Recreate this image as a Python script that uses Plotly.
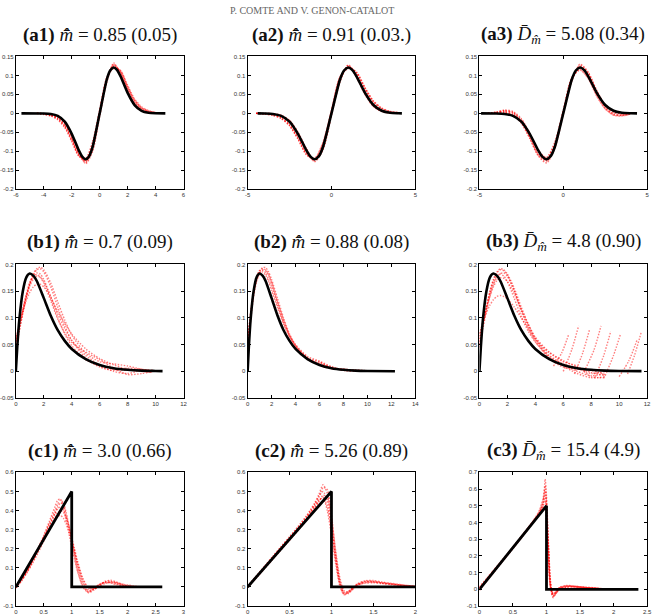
import plotly.graph_objects as go

W, H = 659, 616

HEADER = "P. COMTE AND V. GENON-CATALOT"
TITLES = [
    "<b>(a1)</b> <i>m\u0302\u0304</i> = 0.85 (0.05)",
    "<b>(a2)</b> <i>m\u0302\u0304</i> = 0.91 (0.03.)",
    "<b>(a3)</b> <i>D\u0304</i><sub><i>m\u0302</i></sub> = 5.08 (0.34)",
    "<b>(b1)</b> <i>m\u0302\u0304</i> = 0.7 (0.09)",
    "<b>(b2)</b> <i>m\u0302\u0304</i> = 0.88 (0.08)",
    "<b>(b3)</b> <i>D\u0304</i><sub><i>m\u0302</i></sub> = 4.8 (0.90)",
    "<b>(c1)</b> <i>m\u0302\u0304</i> = 3.0 (0.66)",
    "<b>(c2)</b> <i>m\u0302\u0304</i> = 5.26 (0.89)",
    "<b>(c3)</b> <i>D\u0304</i><sub><i>m\u0302</i></sub> = 15.4 (4.9)",
]

# ---------------- row a : true function (black) ----------------
A_BLACK_X = [-4, -3.5, -3, -2.5, -2, -1.5, -1.25, -1, -0.75, -0.5, 0, 0.5, 0.75, 1, 1.25, 1.5, 2, 2.5, 3, 3.5, 4]
A_BLACK_Y = [-0.0003, -0.0015, -0.0067, -0.0219, -0.054, -0.0971, -0.1141, -0.121, -0.1129, -0.088, 0,
             0.088, 0.1129, 0.121, 0.1141, 0.0971, 0.054, 0.0219, 0.0067, 0.0015, 0.0003]
A1_BLACK_ENDS = [-5.6, 4.7]
A2_BLACK_ENDS = [-4.4, 4.2]
A3_BLACK_ENDS = [-4.9, 4.4]

# row a : estimates (red)
GA = [-4.5, -4, -3.5, -3, -2.5, -2, -1.5, -1, -0.5, 0, 0.5, 1, 1.5, 2, 2.5, 3, 3.5, 4]
A1_RED = [
    [0, -0.002, -0.005, -0.014, -0.034, -0.070, -0.110, -0.124, -0.082, 0.004, 0.088, 0.125, 0.110, 0.070, 0.034, 0.014, 0.005, 0.002],
    [0, -0.001, -0.004, -0.012, -0.031, -0.066, -0.108, -0.130, -0.094, -0.004, 0.086, 0.130, 0.108, 0.066, 0.031, 0.012, 0.004, 0.001],
    [0, -0.003, -0.007, -0.017, -0.038, -0.074, -0.112, -0.118, -0.074, 0.010, 0.094, 0.118, 0.112, 0.074, 0.038, 0.017, 0.007, 0.003],
    [0, -0.001, -0.003, -0.009, -0.026, -0.060, -0.104, -0.126, -0.088, 0.000, 0.088, 0.126, 0.104, 0.060, 0.026, 0.009, 0.003, 0.001],
    [0, -0.0005, -0.002, -0.007, -0.022, -0.055, -0.099, -0.133, -0.100, -0.008, 0.080, 0.133, 0.101, 0.055, 0.021, 0.006, 0.001, 0],
    [0, -0.002, -0.006, -0.015, -0.035, -0.071, -0.113, -0.122, -0.078, 0.006, 0.092, 0.121, 0.113, 0.071, 0.035, 0.015, 0.006, 0.002],
    [0, -0.001, -0.004, -0.011, -0.029, -0.064, -0.106, -0.128, -0.090, 0.002, 0.090, 0.128, 0.106, 0.064, 0.029, 0.011, 0.004, 0.001],
]
A2_RED = [
    [0, -0.001, -0.004, -0.012, -0.030, -0.064, -0.105, -0.122, -0.080, 0.006, 0.094, 0.122, 0.105, 0.064, 0.030, 0.012, 0.004, 0.001],
    [0, -0.002, -0.005, -0.013, -0.032, -0.067, -0.108, -0.118, -0.076, 0.008, 0.096, 0.118, 0.108, 0.067, 0.032, 0.013, 0.005, 0.002],
    [0, 0, -0.001, -0.005, -0.018, -0.049, -0.093, -0.128, -0.096, -0.005, 0.082, 0.128, 0.094, 0.049, 0.018, 0.005, 0.001, 0],
    [0, -0.001, -0.003, -0.009, -0.027, -0.061, -0.104, -0.126, -0.088, 0.001, 0.090, 0.126, 0.104, 0.061, 0.027, 0.009, 0.003, 0.001],
    [0, 0, -0.001, -0.006, -0.020, -0.051, -0.094, -0.124, -0.093, -0.003, 0.084, 0.125, 0.096, 0.051, 0.019, 0.005, 0.001, 0],
    [0, -0.002, -0.005, -0.014, -0.033, -0.068, -0.109, -0.121, -0.078, 0.007, 0.095, 0.121, 0.109, 0.068, 0.033, 0.014, 0.005, 0.002],
]
A3_RED = [
    [0, 0.003, 0.007, 0.002, -0.020, -0.062, -0.108, -0.123, -0.082, 0.004, 0.090, 0.124, 0.104, 0.055, 0.016, -0.003, -0.005, -0.001],
    [0, 0.002, 0.009, 0.005, -0.014, -0.052, -0.098, -0.116, -0.076, 0.008, 0.094, 0.114, 0.092, 0.046, 0.012, -0.004, -0.006, -0.002],
    [0, 0.001, 0.003, -0.003, -0.025, -0.065, -0.110, -0.128, -0.089, 0.000, 0.086, 0.127, 0.106, 0.059, 0.021, 0.002, -0.002, 0],
    [0, 0.002, 0.005, 0.000, -0.021, -0.060, -0.105, -0.124, -0.086, 0.002, 0.088, 0.121, 0.099, 0.052, 0.017, -0.001, -0.004, -0.001],
    [0, 0.003, 0.007, 0.003, -0.016, -0.054, -0.099, -0.118, -0.078, 0.006, 0.092, 0.116, 0.091, 0.045, 0.012, -0.005, -0.007, -0.002],
    [0, 0, 0.002, -0.004, -0.026, -0.066, -0.112, -0.131, -0.092, -0.003, 0.083, 0.130, 0.108, 0.060, 0.022, 0.004, -0.001, 0],
]

# ---------------- row b ----------------
B_BLACK_X = [0, 0.1, 0.25, 0.5, 0.75, 1, 1.25, 1.5, 2, 2.5, 3, 3.5, 4, 5, 6, 7, 8, 9, 10]
B_BLACK_Y = [0, 0.045, 0.097, 0.150, 0.176, 0.183, 0.179, 0.169, 0.137, 0.104, 0.077, 0.057, 0.042,
             0.023, 0.012, 0.006, 0.003, 0.0015, 0.0008]
B1_BLACK_END = 10.5
B2_BLACK_END = 12.3
B3_BLACK_END = 11.6

GB1 = [0, 0.25, 0.5, 0.75, 1, 1.25, 1.5, 1.75, 2, 2.5, 3, 3.5, 4, 5, 6, 7, 8, 9, 9.8]
B1_RED = [
    [0.055, 0.085, 0.115, 0.140, 0.160, 0.172, 0.178, 0.176, 0.168, 0.140, 0.108, 0.080, 0.058, 0.030, 0.012, 0.004, 0.002, 0.003, 0.001],
    [0.040, 0.075, 0.108, 0.138, 0.162, 0.180, 0.190, 0.192, 0.186, 0.158, 0.120, 0.085, 0.058, 0.025, 0.008, 0.002, 0.006, 0.004, 0.000],
    [0.060, 0.088, 0.112, 0.132, 0.148, 0.158, 0.163, 0.163, 0.158, 0.138, 0.112, 0.090, 0.070, 0.042, 0.024, 0.012, 0.004, 0.000, -0.002],
    [0.050, 0.082, 0.112, 0.140, 0.163, 0.178, 0.184, 0.182, 0.172, 0.138, 0.100, 0.070, 0.048, 0.022, 0.010, 0.000, -0.004, 0.002, 0.002],
    [0.045, 0.078, 0.110, 0.141, 0.166, 0.183, 0.192, 0.195, 0.190, 0.165, 0.130, 0.096, 0.068, 0.034, 0.018, 0.014, 0.010, 0.004, 0.000],
    [0.058, 0.088, 0.118, 0.145, 0.166, 0.178, 0.181, 0.176, 0.165, 0.132, 0.098, 0.072, 0.054, 0.036, 0.022, 0.006, -0.006, -0.004, 0.000],
]
GB2 = [0, 0.25, 0.5, 0.75, 1, 1.25, 1.5, 1.75, 2, 2.5, 3, 3.5, 4, 5, 6, 7, 8, 9, 10.5]
B2_RED = [
    [0.050, 0.105, 0.150, 0.176, 0.188, 0.190, 0.184, 0.172, 0.158, 0.124, 0.092, 0.066, 0.047, 0.024, 0.014, 0.007, 0.004, 0.002, 0.000],
    [0.035, 0.095, 0.140, 0.168, 0.183, 0.189, 0.188, 0.180, 0.166, 0.130, 0.096, 0.068, 0.048, 0.022, 0.016, 0.008, 0.002, 0.001, 0.000],
    [0.060, 0.110, 0.148, 0.172, 0.186, 0.194, 0.194, 0.186, 0.172, 0.136, 0.100, 0.070, 0.049, 0.025, 0.018, 0.006, 0.003, 0.003, 0.000],
    [0.045, 0.100, 0.145, 0.172, 0.184, 0.186, 0.180, 0.168, 0.152, 0.118, 0.088, 0.064, 0.046, 0.026, 0.012, 0.005, 0.005, 0.001, 0.000],
    [0.055, 0.108, 0.150, 0.175, 0.189, 0.192, 0.190, 0.181, 0.166, 0.128, 0.094, 0.067, 0.050, 0.028, 0.019, 0.009, 0.002, 0.000, 0.001],
]
GB3 = [0, 0.25, 0.5, 0.75, 1, 1.25, 1.5, 1.75, 2, 2.5, 3, 3.5, 4, 5, 6, 7, 8, 9]
B3_RED = [
    [0.060, 0.090, 0.120, 0.146, 0.166, 0.178, 0.182, 0.178, 0.168, 0.136, 0.102, 0.075, 0.055, 0.028, 0.012, 0.000, -0.008, -0.004],
    [0.050, 0.085, 0.118, 0.148, 0.170, 0.184, 0.190, 0.188, 0.180, 0.150, 0.112, 0.080, 0.056, 0.024, 0.008, 0.004, 0.002, -0.006],
    [0.070, 0.092, 0.110, 0.124, 0.134, 0.140, 0.142, 0.140, 0.136, 0.120, 0.100, 0.080, 0.060, 0.035, 0.018, 0.010, -0.010, -0.012],
    [0.055, 0.088, 0.120, 0.150, 0.172, 0.186, 0.192, 0.190, 0.182, 0.155, 0.120, 0.088, 0.062, 0.030, 0.014, 0.006, -0.004, 0.000],
    [0.065, 0.092, 0.118, 0.140, 0.158, 0.170, 0.175, 0.174, 0.168, 0.145, 0.116, 0.088, 0.064, 0.036, 0.020, 0.008, -0.002, -0.008],
    [0.045, 0.080, 0.112, 0.140, 0.162, 0.176, 0.183, 0.184, 0.178, 0.150, 0.115, 0.085, 0.060, 0.026, 0.010, -0.004, -0.012, -0.010],
]
# rising ends of some estimates in (b3)
B3_TAIL_X = [[5.3, 5.9, 6.4], [6.0, 6.6, 7.1], [6.8, 7.4, 7.9], [7.5, 8.2, 8.7],
             [8.3, 8.9, 9.4], [9.0, 9.6, 10.1], [10.0, 10.7, 11.3], [10.6, 11.1, 11.6]]
B3_TAIL_Y = [[0.010, 0.035, 0.070], [0.000, 0.040, 0.085], [-0.005, 0.035, 0.080], [0.000, 0.040, 0.085],
             [-0.010, 0.030, 0.075], [-0.008, 0.030, 0.070], [-0.010, 0.020, 0.060], [-0.005, 0.030, 0.075]]

# ---------------- row c ----------------
C_BLACK_X = [0, 1, 1]
C_BLACK_Y = [0, 0.5, 0]
C1_BLACK_END = 2.62
C2_BLACK_END = 2.0
C3_BLACK_END = 2.37

GC1 = [0, 0.1, 0.2, 0.3, 0.4, 0.5, 0.6, 0.7, 0.75, 0.8, 0.85, 0.9, 0.95, 1.0, 1.05, 1.1, 1.2, 1.3, 1.4, 1.5, 1.6, 1.7, 1.8, 1.9, 2.0, 2.2]
C1_RED = [
    [0.000, 0.035, 0.080, 0.135, 0.195, 0.255, 0.320, 0.385, 0.420, 0.440, 0.430, 0.380, 0.320, 0.250, 0.180, 0.110, 0.020, -0.025, -0.005, 0.015, 0.025, 0.022, 0.015, 0.008, 0.003, 0.000],
    [0.005, 0.040, 0.085, 0.140, 0.200, 0.265, 0.335, 0.400, 0.435, 0.455, 0.440, 0.390, 0.320, 0.240, 0.160, 0.090, 0.000, -0.030, -0.015, 0.010, 0.028, 0.030, 0.020, 0.010, 0.004, 0.000],
    [-0.005, 0.030, 0.075, 0.125, 0.180, 0.240, 0.300, 0.350, 0.370, 0.375, 0.360, 0.330, 0.290, 0.240, 0.185, 0.130, 0.040, -0.010, -0.005, 0.012, 0.022, 0.026, 0.024, 0.016, 0.008, 0.000],
    [0.000, 0.038, 0.085, 0.140, 0.200, 0.262, 0.325, 0.385, 0.410, 0.420, 0.405, 0.365, 0.310, 0.250, 0.185, 0.120, 0.025, -0.020, -0.012, 0.008, 0.030, 0.035, 0.026, 0.012, 0.004, 0.000],
    [0.008, 0.045, 0.090, 0.145, 0.205, 0.270, 0.345, 0.420, 0.455, 0.460, 0.420, 0.350, 0.280, 0.210, 0.145, 0.085, 0.005, -0.028, -0.008, 0.014, 0.024, 0.020, 0.012, 0.006, 0.002, 0.000],
    [-0.003, 0.032, 0.078, 0.130, 0.188, 0.248, 0.310, 0.365, 0.390, 0.400, 0.390, 0.360, 0.315, 0.260, 0.200, 0.140, 0.045, -0.005, -0.010, 0.005, 0.018, 0.025, 0.022, 0.015, 0.010, 0.002],
]
GC2 = [0, 0.1, 0.2, 0.3, 0.4, 0.5, 0.6, 0.7, 0.75, 0.8, 0.85, 0.9, 0.95, 1.0, 1.05, 1.1, 1.15, 1.2, 1.3, 1.4, 1.5, 1.6, 1.7, 1.8, 1.9, 2.0]
C2_RED = [
    [0.000, 0.050, 0.100, 0.150, 0.200, 0.250, 0.300, 0.355, 0.385, 0.415, 0.450, 0.470, 0.420, 0.300, 0.150, 0.030, -0.030, -0.030, 0.010, 0.025, 0.025, 0.018, 0.015, 0.010, 0.005, 0.002],
    [0.005, 0.055, 0.108, 0.160, 0.212, 0.262, 0.312, 0.368, 0.400, 0.435, 0.475, 0.500, 0.450, 0.310, 0.140, 0.010, -0.040, -0.035, 0.005, 0.028, 0.030, 0.022, 0.018, 0.012, 0.008, 0.004],
    [-0.003, 0.045, 0.095, 0.145, 0.195, 0.245, 0.295, 0.348, 0.378, 0.410, 0.445, 0.480, 0.470, 0.360, 0.190, 0.050, -0.020, -0.025, 0.015, 0.030, 0.028, 0.020, 0.012, 0.008, 0.004, 0.000],
    [0.002, 0.052, 0.104, 0.156, 0.208, 0.258, 0.308, 0.362, 0.395, 0.430, 0.470, 0.520, 0.510, 0.380, 0.180, 0.030, -0.035, -0.030, 0.008, 0.022, 0.026, 0.024, 0.020, 0.014, 0.008, 0.003],
    [0.000, 0.048, 0.098, 0.148, 0.198, 0.250, 0.302, 0.358, 0.390, 0.422, 0.455, 0.465, 0.400, 0.270, 0.120, 0.005, -0.040, -0.028, 0.012, 0.032, 0.034, 0.026, 0.016, 0.010, 0.006, 0.002],
    [0.004, 0.054, 0.106, 0.158, 0.210, 0.262, 0.316, 0.372, 0.405, 0.440, 0.485, 0.535, 0.490, 0.340, 0.160, 0.020, -0.030, -0.022, 0.010, 0.020, 0.022, 0.020, 0.016, 0.012, 0.006, 0.002],
]
GC3 = [0, 0.1, 0.2, 0.3, 0.4, 0.5, 0.6, 0.7, 0.8, 0.85, 0.9, 0.95, 0.98, 1.0, 1.03, 1.06, 1.1, 1.15, 1.2, 1.3, 1.4, 1.5, 1.6, 1.7, 1.8, 1.9]
C3_RED = [
    [0.010, 0.058, 0.105, 0.153, 0.200, 0.250, 0.300, 0.352, 0.405, 0.432, 0.460, 0.490, 0.500, 0.420, 0.200, 0.020, -0.030, -0.010, 0.010, 0.018, 0.015, 0.012, 0.010, 0.008, 0.005, 0.002],
    [0.000, 0.050, 0.098, 0.148, 0.198, 0.248, 0.298, 0.350, 0.402, 0.430, 0.465, 0.520, 0.560, 0.480, 0.250, 0.040, -0.045, -0.020, 0.005, 0.020, 0.018, 0.014, 0.010, 0.006, 0.004, 0.002],
    [0.015, 0.062, 0.110, 0.158, 0.205, 0.254, 0.305, 0.356, 0.410, 0.440, 0.478, 0.545, 0.620, 0.520, 0.240, 0.010, -0.050, -0.015, 0.008, 0.015, 0.020, 0.016, 0.012, 0.008, 0.004, 0.000],
    [-0.005, 0.045, 0.094, 0.144, 0.194, 0.244, 0.294, 0.346, 0.398, 0.425, 0.452, 0.480, 0.480, 0.380, 0.160, 0.005, -0.035, -0.012, 0.012, 0.022, 0.018, 0.010, 0.008, 0.006, 0.003, 0.000],
    [0.005, 0.054, 0.102, 0.150, 0.200, 0.250, 0.302, 0.354, 0.408, 0.436, 0.470, 0.530, 0.590, 0.500, 0.220, 0.030, -0.040, -0.018, 0.006, 0.016, 0.016, 0.014, 0.012, 0.010, 0.006, 0.002],
    [0.008, 0.056, 0.104, 0.152, 0.202, 0.252, 0.302, 0.352, 0.404, 0.434, 0.462, 0.500, 0.530, 0.450, 0.190, 0.015, -0.025, -0.008, 0.014, 0.024, 0.020, 0.015, 0.010, 0.006, 0.004, 0.001],
    [0.002, 0.052, 0.100, 0.150, 0.198, 0.248, 0.298, 0.350, 0.400, 0.428, 0.455, 0.510, 0.660, 0.560, 0.280, 0.050, -0.040, -0.020, 0.004, 0.012, 0.014, 0.012, 0.010, 0.008, 0.004, 0.000],
]

# ---------------- axes ----------------
X_RANGES = [[-6, 6], [-5, 5], [-5, 5], [0, 12], [0, 14], [0, 12], [0, 3], [0, 2], [0, 2.5]]
X_TICKS = [[-6, -4, -2, 0, 2, 4, 6], [-5, 0, 5], [-5, 0, 5],
           [0, 2, 4, 6, 8, 10, 12], [0, 2, 4, 6, 8, 10, 12, 14], [0, 2, 4, 6, 8, 10, 12],
           [0, 0.5, 1, 1.5, 2, 2.5, 3], [0, 0.5, 1, 1.5, 2], [0, 0.5, 1, 1.5, 2, 2.5]]
Y_RANGES = [[-0.2, 0.15]] * 3 + [[-0.05, 0.2]] * 3 + [[-0.1, 0.6], [-0.1, 0.6], [-0.1, 0.7]]
YA_TICKS = [-0.2, -0.15, -0.1, -0.05, 0, 0.05, 0.1, 0.15]
YB_TICKS = [-0.05, 0, 0.05, 0.1, 0.15, 0.2]
YC_TICKS = [-0.1, 0, 0.1, 0.2, 0.3, 0.4, 0.5, 0.6]
YC3_TICKS = [-0.1, 0, 0.1, 0.2, 0.3, 0.4, 0.5, 0.6, 0.7]
Y_TICKS = [YA_TICKS] * 3 + [YB_TICKS] * 3 + [YC_TICKS, YC_TICKS, YC3_TICKS]

# pixel boxes of plot areas
COL_PX = [(12, 182), (247, 417), (482, 652)]
ROW_PX = [(54, 188), (264, 399), (474, 609)]
TITLE_Y_PX = [32, 241, 452]

fig = go.Figure()

RED = dict(color="rgba(255,0,0,0.5)", width=1.4, dash="1.5px,1.5px", shape="spline", smoothing=0.7)
BLACK = dict(color="black", width=2.6, shape="spline", smoothing=0.6)
BLACK_LIN = dict(color="black", width=2.8)


def ax(k):
    return ("x" if k == 1 else f"x{k}"), ("y" if k == 1 else f"y{k}")


def add_red(k, grid, curves):
    xa, ya = ax(k)
    for c in curves:
        fig.add_trace(go.Scatter(x=grid[:len(c)], y=c, mode="lines", line=RED,
                                 xaxis=xa, yaxis=ya, hoverinfo="skip", showlegend=False))


def add_black(k, xs, ys, line):
    xa, ya = ax(k)
    fig.add_trace(go.Scatter(x=xs, y=ys, mode="lines", line=line,
                             xaxis=xa, yaxis=ya, hoverinfo="skip", showlegend=False))


# row a
for k, reds, ends in [(1, A1_RED, A1_BLACK_ENDS), (2, A2_RED, A2_BLACK_ENDS), (3, A3_RED, A3_BLACK_ENDS)]:
    add_red(k, GA, reds)
    add_black(k, [ends[0]] + A_BLACK_X + [ends[1]], [0] + A_BLACK_Y + [0], BLACK)

# row b
add_red(4, GB1, B1_RED)
add_black(4, B_BLACK_X + [B1_BLACK_END], B_BLACK_Y + [0.0005], BLACK)
add_red(5, GB2, B2_RED)
add_black(5, B_BLACK_X + [B2_BLACK_END], B_BLACK_Y + [0.0003], BLACK)
add_red(6, GB3, B3_RED)
for tx, ty in zip(B3_TAIL_X, B3_TAIL_Y):
    fig.add_trace(go.Scatter(x=tx, y=ty, mode="lines", line=RED, xaxis="x6", yaxis="y6",
                             hoverinfo="skip", showlegend=False))
add_black(6, B_BLACK_X + [B3_BLACK_END], B_BLACK_Y + [0.0004], BLACK)

# row c
for k, grid, reds, end in [(7, GC1, C1_RED, C1_BLACK_END), (8, GC2, C2_RED, C2_BLACK_END), (9, GC3, C3_RED, C3_BLACK_END)]:
    add_red(k, grid, reds)
    add_black(k, C_BLACK_X + [end], C_BLACK_Y + [0], BLACK_LIN)

layout = dict(
    width=W, height=H, margin=dict(l=0, r=0, t=0, b=0),
    paper_bgcolor="white", plot_bgcolor="white", showlegend=False,
    font=dict(family="Liberation Sans, Arial, sans-serif", size=6, color="#333"),
)
annotations = []
for i in range(9):
    r, c = divmod(i, 3)
    k = i + 1
    x0, x1 = COL_PX[c]
    y0, y1 = ROW_PX[r]
    common = dict(showgrid=False, zeroline=False, showline=True, linecolor="black", linewidth=1,
                  mirror="allticks", ticks="inside", ticklen=3, tickwidth=0.8, tickcolor="black",
                  tickfont=dict(size=6, color="#333"), fixedrange=True)
    layout["xaxis" if k == 1 else f"xaxis{k}"] = dict(
        domain=[x0 / W, x1 / W], range=X_RANGES[i], anchor=ax(k)[1],
        tickvals=X_TICKS[i], ticktext=[f"{v:g}" for v in X_TICKS[i]], **common)
    layout["yaxis" if k == 1 else f"yaxis{k}"] = dict(
        domain=[1 - y1 / H, 1 - y0 / H], range=Y_RANGES[i], anchor=ax(k)[0],
        tickvals=Y_TICKS[i], ticktext=[f"{v:g}" for v in Y_TICKS[i]], **common)
    annotations.append(dict(
        text=TITLES[i], xref="paper", yref="paper", x=(x0 + x1) / 2 / W, y=1 - TITLE_Y_PX[r] / H,
        xanchor="center", yanchor="middle", showarrow=False,
        font=dict(family="Liberation Serif, DejaVu Serif, serif", size=19, color="#111")))

annotations.append(dict(
    text=HEADER, xref="paper", yref="paper", x=312 / W, y=1, xanchor="center", yanchor="top",
    showarrow=False, font=dict(family="Liberation Serif, serif", size=10, color="#666")))
layout["annotations"] = annotations
fig.update_layout(**layout)

fig.write_html("out.html")
